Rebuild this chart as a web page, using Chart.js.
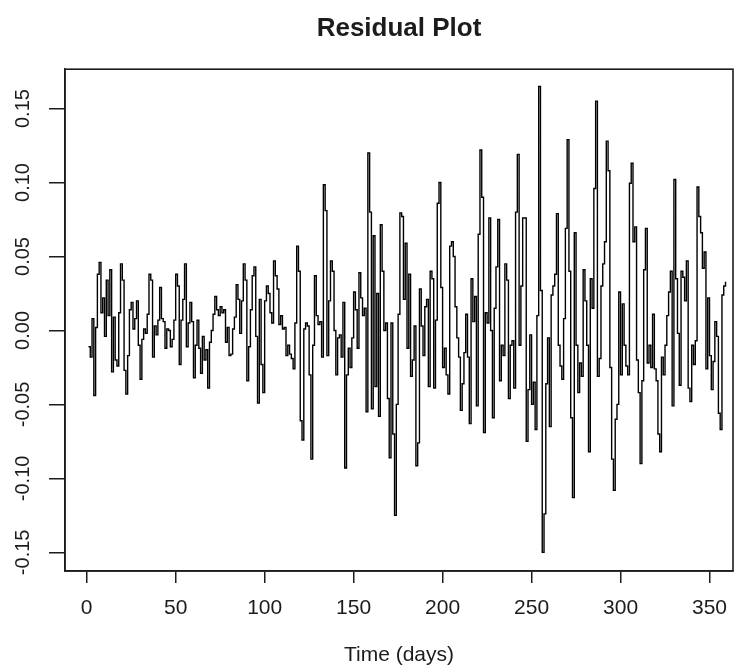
<!DOCTYPE html>
<html>
<head>
<meta charset="utf-8">
<title>Residual Plot</title>
<script src="https://cdn.jsdelivr.net/npm/chart.js@4.4.1/dist/chart.umd.min.js"></script>
<style>
  html, body { margin: 0; padding: 0; background: #fff; }
  #wrap { width: 741px; height: 671px; }
</style>
</head>
<body>
<div id="wrap"><canvas id="residChart" width="741" height="671"></canvas></div>
<script>
// residuals, one per day (day 1 .. 359)
const residuals = [
  -0.011, -0.018, 0.008, -0.044, 0.002, 0.038, 0.046, 0.012, 0.022, -0.004,
  0.034, 0.010, 0.041, -0.028, 0.009, -0.020, -0.024, 0.012, 0.045, 0.034,
  -0.027, -0.043, -0.017, 0.014, 0.019, 0.001, 0.008, 0.020, -0.010, -0.033,
  -0.006, 0.001, -0.002, 0.011, 0.038, 0.034, -0.018, 0.003, -0.003, 0.007,
  0.029, 0.008, 0.006, -0.012, 0.001, 0.000, -0.011, -0.006, 0.007, 0.038,
  0.030, -0.023, 0.007, 0.021, 0.045, -0.011, 0.005, 0.019, 0.006, -0.032,
  -0.010, 0.007, -0.012, -0.029, -0.004, -0.020, -0.013, -0.039, -0.008, 0.000,
  0.011, 0.023, 0.014, 0.010, 0.016, 0.012, 0.014, -0.008, 0.002, -0.017,
  -0.016, 0.001, 0.009, 0.031, 0.021, -0.002, 0.020, 0.045, 0.034, -0.034,
  -0.011, 0.014, 0.037, 0.043, -0.004, -0.049, 0.021, -0.023, -0.042, 0.020,
  0.030, 0.025, 0.012, 0.005, 0.047, 0.037, 0.028, 0.004, 0.010, 0.001,
  0.002, -0.017, -0.010, -0.016, -0.019, -0.026, 0.005, 0.057, 0.040, -0.061,
  -0.074, 0.001, 0.005, 0.003, -0.030, -0.087, -0.010, 0.037, 0.010, 0.004,
  0.006, -0.018, 0.0985, 0.081, -0.017, 0.020, 0.047, 0.040, 0.000, -0.030,
  -0.005, -0.003, -0.018, 0.019, -0.093, -0.030, -0.012, -0.025, -0.005, 0.026,
  0.014, -0.012, 0.039, 0.022, 0.010, 0.015, -0.055, 0.120, 0.080, -0.053,
  0.064, -0.038, 0.025, -0.058, 0.0715, 0.040, 0.000, 0.005, -0.046, -0.086,
  0.005, -0.070, -0.125, -0.050, 0.011, 0.0795, 0.077, 0.021, 0.059, -0.012,
  0.038, -0.031, -0.020, 0.003, -0.0915, -0.076, 0.028, 0.003, -0.017, 0.016,
  0.021, -0.038, 0.040, 0.035, -0.039, 0.007, 0.086, 0.100, 0.029, -0.025,
  -0.012, -0.030, -0.043, 0.057, 0.060, 0.050, 0.016, -0.005, -0.018, -0.054,
  -0.036, -0.015, 0.011, -0.018, -0.063, 0.035, 0.006, 0.023, -0.051, 0.065,
  0.122, 0.090, -0.069, 0.012, 0.005, 0.076, 0.000, -0.059, 0.015, 0.043,
  0.075, -0.034, -0.010, -0.017, 0.045, 0.034, -0.046, -0.010, -0.007, -0.039,
  0.080, 0.119, -0.010, 0.030, 0.076, 0.076, -0.075, -0.040, -0.003, -0.050,
  -0.035, -0.067, 0.010, 0.165, 0.027, -0.150, -0.124, -0.036, -0.005, -0.065,
  0.024, 0.030, 0.038, 0.079, -0.010, -0.024, -0.033, 0.008, 0.069, 0.129,
  0.040, -0.059, -0.113, 0.066, -0.010, -0.042, -0.022, -0.031, 0.041, 0.020,
  -0.010, -0.082, 0.035, 0.015, 0.096, 0.155, -0.031, -0.019, 0.030, 0.045,
  0.060, 0.128, 0.108, -0.025, -0.087, -0.108, -0.060, -0.050, 0.026, -0.030,
  0.018, -0.010, -0.024, -0.030, 0.0995, 0.113, 0.060, 0.070, -0.020, -0.042,
  -0.090, -0.034, 0.041, 0.069, -0.022, -0.010, -0.025, 0.011, -0.026, -0.034,
  -0.070, -0.082, -0.018, -0.030, -0.010, 0.010, 0.026, 0.040, -0.051, 0.102,
  0.035, -0.002, -0.037, 0.040, 0.036, 0.020, 0.047, -0.039, -0.048, -0.010,
  -0.023, -0.007, 0.097, 0.077, 0.066, 0.042, 0.053, -0.026, 0.022, -0.017,
  -0.040, -0.021, 0.006, -0.004, -0.056, -0.067, 0.024, 0.030, 0.033
];
const xTicks = [0, 50, 100, 150, 200, 250, 300, 350];
const yTicks = [-0.15, -0.10, -0.05, 0.00, 0.05, 0.10, 0.15];
const chartTitle = "Residual Plot";
const xTitle = "Time (days)";

const FONT = "'Liberation Sans', Arial, Helvetica, sans-serif";
const INK = "#1c1c1c";

const points = residuals.map((r, i) => ({ x: i + 1, y: r }));

// box round the plot region, like R's box()
const boxPlugin = {
  id: "rbox",
  afterDraw(chart) {
    const a = chart.chartArea;
    const ctx = chart.ctx;
    ctx.save();
    ctx.strokeStyle = INK;
    ctx.lineWidth = 1.6;
    ctx.strokeRect(a.left, a.top, a.right - a.left, a.bottom - a.top);
    ctx.restore();
  },
};

// rotated y tick labels (R draws them parallel to the axis)
const yLabelPlugin = {
  id: "ylabels",
  afterDraw(chart) {
    const ys = chart.scales.y;
    const ctx = chart.ctx;
    ctx.save();
    ctx.fillStyle = INK;
    ctx.font = "20px " + FONT;
    ctx.textAlign = "center";
    ctx.textBaseline = "middle";
    yTicks.forEach((v) => {
      const py = ys.getPixelForValue(v);
      ctx.save();
      ctx.translate(23, py);
      ctx.rotate(-Math.PI / 2);
      ctx.fillText(v.toFixed(2), 0, 0);
      ctx.restore();
    });
    ctx.restore();
  },
};

new Chart(document.getElementById("residChart"), {
  type: "line",
  data: {
    datasets: [
      {
        label: "Residuals",
        data: points,
        borderColor: "#000",
        borderWidth: 1.4,
        pointRadius: 0,
        stepped: true,
        fill: false,
      },
    ],
  },
  options: {
    responsive: false,
    animation: false,
    parsing: false,
    layout: { padding: { left: 0, right: 8, top: 0, bottom: 0 } },
    plugins: {
      legend: { display: false },
      tooltip: { enabled: false },
      title: {
        display: true,
        fullSize: false,
        text: chartTitle,
        color: INK,
        font: { family: FONT, size: 26, weight: "bold" },
        padding: { top: 13, bottom: 25 },
      },
    },
    scales: {
      x: {
        type: "linear",
        min: -12.2,
        max: 363.2,
        afterBuildTicks: (s) => { s.ticks = xTicks.map((v) => ({ value: v })); },
        afterFit: (s) => { s.height = 100; },
        ticks: {
          color: INK,
          font: { family: FONT, size: 21 },
          padding: 13,
          maxRotation: 0,
          autoSkip: false,
          callback: (v) => String(v),
        },
        grid: { drawOnChartArea: false, drawTicks: true, tickLength: 12, color: INK, lineWidth: 1.5 },
        border: { display: true, color: INK, width: 1.5 },
        title: {
          display: true,
          text: xTitle,
          color: INK,
          font: { family: FONT, size: 21 },
          padding: { top: 0, bottom: 3 },
        },
      },
      y: {
        type: "linear",
        min: -0.1626,
        max: 0.1766,
        afterBuildTicks: (s) => { s.ticks = yTicks.map((v) => ({ value: v })); },
        afterFit: (s) => { s.width = 65; },
        ticks: { display: false },
        grid: { drawOnChartArea: false, drawTicks: true, tickLength: 16, color: INK, lineWidth: 1.5 },
        border: { display: true, color: INK, width: 1.5 },
      },
    },
  },
  plugins: [boxPlugin, yLabelPlugin],
});
</script>
</body>
</html>
